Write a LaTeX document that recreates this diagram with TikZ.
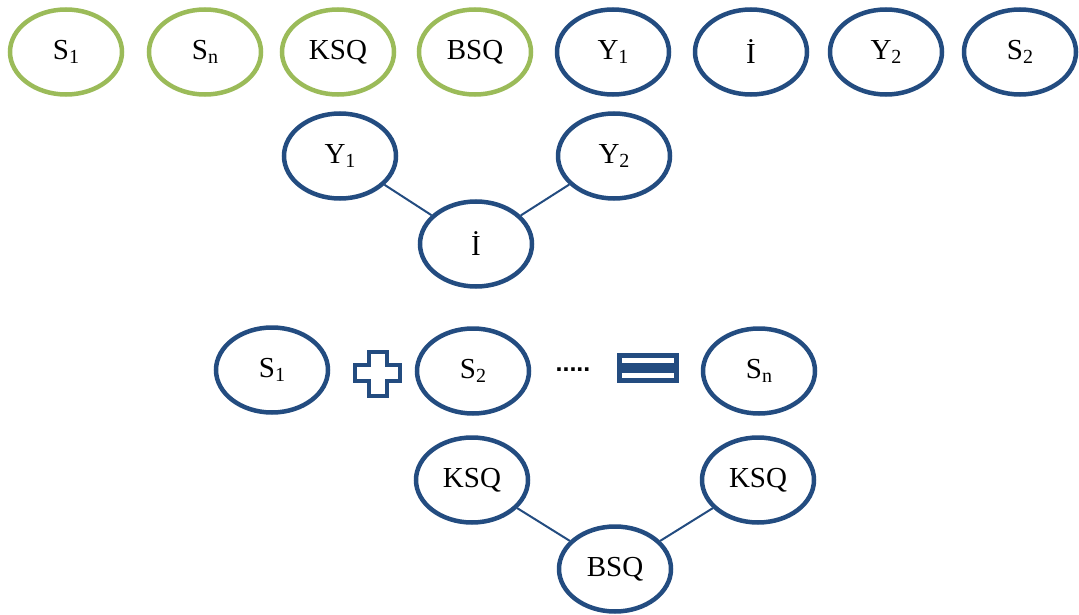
\documentclass[tikz,border=0pt]{standalone}
\usepackage{fontspec}
\setmainfont{Liberation Serif}
\newfontfamily\dotfont{Liberation Sans}
\usetikzlibrary{shapes.geometric}
\definecolor{bl}{HTML}{234C80}
\definecolor{gr}{HTML}{9BBB59}
\newcommand{\sbs}[1]{{\fontsize{20}{20}\selectfont\raisebox{-3.5pt}{#1}}}
\tikzset{
  ell/.style={ellipse, draw=bl, line width=4.5pt, minimum width=112pt, minimum height=85pt, inner sep=0pt, font=\fontsize{29}{29}\selectfont},
  gell/.style={ell, draw=gr},
  conn/.style={draw=bl, line width=2pt},
}
\begin{document}
\begin{tikzpicture}[x=1pt,y=-1pt]
\useasboundingbox (0,0) rectangle (1079,615);
% top row
\node[gell] (t1) at (66,52) {S\sbs{1}};
\node[gell] (t2) at (205,52) {S\sbs{n}};
\node[gell] (t3) at (338,52) {KSQ};
\node[gell] (t4) at (475,52) {BSQ};
\node[ell] (t5) at (613,52) {Y\sbs{1}};
\node[ell] (t6) at (751,52) {İ};
\node[ell] (t7) at (886,52) {Y\sbs{2}};
\node[ell] (t8) at (1020,52) {S\sbs{2}};
% tree 1
\node[ell] (y1) at (340,156) {Y\sbs{1}};
\node[ell] (y2) at (614,156) {Y\sbs{2}};
\node[ell] (ii) at (476,244) {İ};
\draw[conn] (y1) -- (ii);
\draw[conn] (y2) -- (ii);
% equation row
\node[ell] (s1) at (272,370) {S\sbs{1}};
\node[ell] (s2) at (473,371) {S\sbs{2}};
\node[ell] (sn) at (759,371) {S\sbs{n}};
% plus sign
\draw[bl, line width=4pt, fill=white, line join=miter]
  (369,352) -- (387,352) -- (387,365) -- (400,365) -- (400,381) -- (387,381) -- (387,396) -- (369,396) -- (369,381) -- (355,381) -- (355,365) -- (369,365) -- cycle;
% dots
\node[font=\dotfont\bfseries\fontsize{25}{25}\selectfont, inner sep=0pt] (dots) at (573,370) {.....};
% equals sign
\fill[bl] (617,353) rectangle (679,383);
\fill[white] (622,358) rectangle (674,363);
\fill[white] (622,373) rectangle (674,378);
% tree 2
\node[ell] (k1) at (472,480) {KSQ};
\node[ell] (k2) at (758,480) {KSQ};
\node[ell] (b) at (615,569) {BSQ};
\draw[conn] (k1) -- (b);
\draw[conn] (k2) -- (b);
\end{tikzpicture}
\end{document}
